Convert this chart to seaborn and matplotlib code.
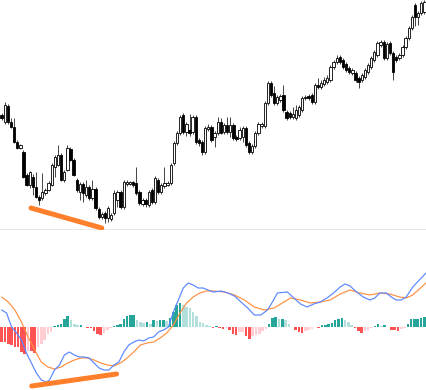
import numpy as np
import pandas as pd
import matplotlib
matplotlib.use("Agg")
import matplotlib.pyplot as plt
import seaborn as sns

# ---------------- data ----------------
opens = [135,128,144,128,123,108,102,98,75,65,73,63,53,52,57,60,65,83,85,95,
         70,80,101,90,70,58,66,55,63,52,61,41,33,37,32,31,37,50,58,43,
         66,66,68,67,58,46,50,45,60,48,70,58,64,65,67,87,107,117,135,118,
         120,118,133,110,108,98,121,123,113,117,128,118,125,118,125,113,112,113,122,107,
         98,104,117,124,124,147,167,157,147,150,155,138,137,133,132,135,140,152,154,155,
         148,165,163,166,168,170,183,188,193,190,186,182,177,177,172,170,173,178,183,190,
         195,205,208,192,207,197,193,192,195,203,212,222,245,233,237,238]
closes = [132,145,128,123,108,102,105,73,65,78,63,53,50,58,60,67,85,93,95,70,
          78,102,90,75,60,66,57,63,52,61,42,33,36,32,42,35,57,58,43,68,
          68,68,65,57,47,50,46,58,48,72,58,65,67,67,85,107,117,133,118,126,
          117,133,108,107,98,122,123,110,117,128,117,125,118,125,112,111,120,122,105,98,
          104,117,126,126,147,167,155,147,153,154,140,132,133,136,140,143,152,153,152,148,
          165,163,167,170,172,183,188,192,188,183,180,178,180,170,168,175,180,185,192,198,
          207,208,192,206,197,178,190,195,203,212,222,233,233,237,247,248]
highs = [137,148,146,132,132,110,106,100,77,79,76,78,55,77,62,69,87,95,105,97,
         80,105,103,92,72,68,68,70,65,70,63,43,38,39,44,37,60,60,60,70,
         70,69,69,83,60,52,52,60,62,74,72,67,83,69,87,109,119,135,137,128,
         136,135,135,112,110,124,126,125,119,133,132,127,133,133,127,115,123,124,124,109,
         106,119,128,128,149,169,169,164,155,156,165,140,139,143,145,145,154,155,156,157,
         167,172,170,173,175,185,190,195,195,192,188,184,182,179,174,177,182,187,194,200,
         209,210,210,208,209,199,195,197,205,214,224,235,247,239,249,250]
lows = [130,126,126,122,107,101,101,72,64,62,55,52,45,50,55,59,64,73,84,69,
        68,79,89,74,58,50,48,53,50,50,40,31,31,27,28,29,35,43,41,41,
        64,65,63,55,45,44,43,43,46,46,56,56,62,64,65,85,105,115,116,114,
        114,116,106,104,95,96,119,108,103,115,116,116,116,113,110,109,110,108,103,96,
        96,102,115,122,122,145,153,145,145,148,138,130,131,131,130,133,138,150,150,146,
        146,161,161,164,166,168,181,186,186,181,178,176,175,168,162,168,171,176,181,188,
        193,203,190,190,195,170,188,190,193,201,210,220,224,225,235,236]

hist = [-15,-15,-17,-18,-20,-20,-25,-27,-24,-24,-26,-20,-17,-13,-7,-5,1,2,3,8,
        11,7,3,2,2,0.5,-1,-1,-4,-7,-7.5,-6,-3,-1,1,2,3,8,11,12,
        12.5,7,5,4,5,3,7,6,7,7,6.5,9,15,22,24,22,20,19,15,11,
        5,4,2,1.5,-0.5,1,-1,-2,-1,-3,-7,-7.5,-5,-4.5,-9,-12,-9,-8,-7,-4,
        -2,3,9,10,8,8,7,3,0.3,-3,-5,-6,-4,-3,-2,-0.3,-1,2,2.3,3,
        4,7,8,9,7,5,2,-1,-4,-6,-4,-3,-1,1,3,1,2,0.2,-3,-3.2,
        -4,-2,-1,3,8,8.2,8.4,9,10]

macd_x = [0,1.5,3,4.5,6,7.5,9,10.5,12,13.5,14.5,16,17.5,19,20.5,22,23.5,25,26.5,28,
          29.5,31,32.5,34,35.5,37,38.5,40,41.5,43,44.5,46,47.5,49,50.5,52,53.5,55,56.5,58,
          59.5,61,62.5,64,66.5,68.5,70.5,72.5,74.5,76.5,78.5,80.5,82,83.5,86.5,88.5,90.5,92.5,
          94.5,96.5,98.5,100.5,102.5,104,105.5,107.5,109.5,111.5,113,114.5,116.5,118,119.5,
          121,122.5,124.5,126.5,128.5]
macd_y = [17,14,0,-6,-13,-26,-36,-46,-53,-55,-53,-43,-38,-28,-25,-28,-30,-30,-31,-36,
          -41,-43,-43,-38,-35,-25,-18,-15,-13,-14,-11,-10,-5,-3,0,15,27,39,44,42,
          39,39,37,35,36,34,31,25,19,12,12,17,25,34,35,29,23,20,
          23,25,29,34,40,43,41,35,30,27,29,34,34,30,27,
          27,30,40,47,54]

signal_x = [0,2,4,6,8,10,12,14,16,18,20,22,24,26,28,30,32,34,36,38,
            40,42,44,46,48,50,52,54,56,58,60,62,64,67.5,70.5,73.5,76.5,79.5,82.5,85.5,
            87.5,90.5,93.5,96.5,99.5,102.5,105.5,108.5,111.5,114.5,117.5,120.5,122.5,124.5,
            126.5,128.5]
signal_y = [30,25,17,5,-10,-23,-35,-40,-42,-40,-36,-33,-31,-31,-33,-36,-38,-39,-36,-31,
            -25,-18,-16,-15,-11,-6,2,14,24,30,34,36,36,35,32,27,20,17,19,25,
            29,27,24,25,27,33,37,34,32,34,33,30,29,32,
            38,44]

div_price_x = [9.4, 32.0]
div_price_y = [42, 22]
div_macd_x = [9.1, 34.8]
div_macd_y = [-59, -47]

# ---------------- figure ----------------
sns.set_theme(style="white")
W, H = 426, 390
fig = plt.figure(figsize=(W / 100, H / 100), dpi=100)
fig.patch.set_facecolor("white")

ax1 = fig.add_axes([0, 1 - 229 / H, 1, 229 / H])
ax2 = fig.add_axes([0, 0, 1, 160 / H])

candles = pd.DataFrame({"open": opens, "high": highs, "low": lows, "close": closes})
candles["idx"] = np.arange(len(candles))
up = candles["close"] >= candles["open"]

ax1.vlines(candles["idx"], candles["low"], candles["high"], color="#444444", lw=0.7, zorder=1)
body_bottom = np.minimum(candles["open"], candles["close"])
body_h = np.maximum(np.abs(candles["close"] - candles["open"]), 0.8)
ax1.bar(candles["idx"], body_h, bottom=body_bottom, width=0.74,
        color=np.where(up, "white", "black"), edgecolor="black", linewidth=0.6, zorder=2)
ax1.plot(div_price_x, div_price_y, color="#ff7f2a", lw=3.6, solid_capstyle="round",
         zorder=3, clip_on=False)
ax1.set_xlim(-0.5, len(candles) - 0.5)
ax1.set_ylim(21, 250)

# MACD panel
hdf = pd.DataFrame({"i": np.arange(len(hist)), "h": hist})
prev = np.concatenate([[0], np.array(hist[:-1])])
harr = np.array(hist)
cols = np.where(harr >= 0,
                np.where(harr >= prev, "#26a69a", "#b2dfdb"),
                np.where(harr <= prev, "#ff5252", "#ffcdd2"))
ax2.bar(hdf["i"], hdf["h"], width=0.78, color=cols, linewidth=0, zorder=1)

mdf = pd.DataFrame({"x": macd_x, "y": macd_y})
sdf = pd.DataFrame({"x": signal_x, "y": signal_y})
sns.lineplot(data=mdf, x="x", y="y", ax=ax2, color="#5a86ff", lw=0.85, zorder=3)
sns.lineplot(data=sdf, x="x", y="y", ax=ax2, color="#ff8f40", lw=0.85, zorder=2)
ax2.plot(div_macd_x, div_macd_y, color="#ff7f2a", lw=3.6, solid_capstyle="round", zorder=4)
ax2.set_xlim(-0.5, len(hist) - 0.5)
ax2.set_ylim(-63, 97)

for ax in (ax1, ax2):
    ax.set_xticks([])
    ax.set_yticks([])
    ax.set_xlabel("")
    ax.set_ylabel("")
    ax.set_facecolor("white")
    for s in ax.spines.values():
        s.set_visible(False)
ax1.spines["bottom"].set_visible(True)
ax1.spines["bottom"].set_color("#e8e8e8")
ax1.spines["bottom"].set_linewidth(0.8)

fig.savefig("out.png", dpi=100, facecolor="white")
